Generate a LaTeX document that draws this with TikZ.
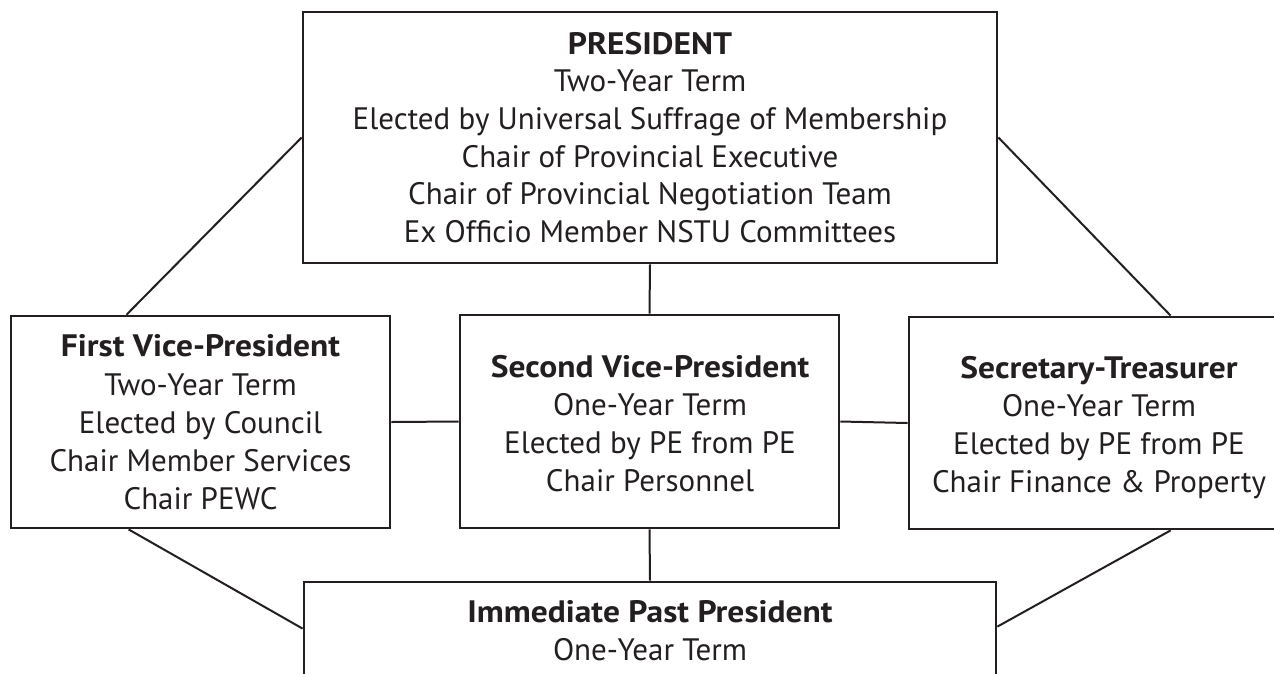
\documentclass[tikz,border=0pt]{standalone}
\usepackage{fontspec}
\setmainfont{PT Sans}[BoldFeatures={FakeStretch=1.08}]
\usetikzlibrary{calc}
\definecolor{ink}{HTML}{231F20}
\tikzset{
  box/.style={draw=ink, line width=2.8pt, fill=white, inner sep=0pt, rectangle},
  link/.style={draw=ink, line width=2pt},
  txt/.style={anchor=base, inner sep=0pt, text=ink, font=\fontsize{31}{37}\selectfont},
}
\begin{document}
\begin{tikzpicture}[x=1pt,y=-1pt]
\useasboundingbox (0,0) rectangle (1274,673);
\clip (0,0) rectangle (1274,673);
\fill[white] (0,0) rectangle (1274,673);
% boxes
\node[box, minimum width=694pt, minimum height=251pt] (pres) at (650,137.5) {};
\node[box, minimum width=379pt, minimum height=212pt] (fvp) at (200.5,422) {};
\node[box, minimum width=379pt, minimum height=213pt] (svp) at (649.5,421.5) {};
\node[box, minimum width=380pt, minimum height=212pt] (sec) at (1099,423) {};
\node[box, minimum width=692pt, minimum height=158pt] (ipp) at (650,661) {};
% connectors
\draw[link] (pres.south) -- (svp.north);
\draw[link] (fvp.east) -- (svp.west);
\draw[link] (svp.east) -- (sec.west);
\draw[link] (svp.south) -- (ipp.north);
\draw[link] (pres.west) -- ([xshift=117pt]fvp.north west);
\draw[link] (pres.east) -- ([xshift=263pt]sec.north west);
\draw[link] ([xshift=119pt]fvp.south west) -- ([yshift=-48pt]ipp.north west);
\draw[link] ([xshift=263pt]sec.south west) -- ([yshift=-46pt]ipp.north east);
% texts
\foreach \t [count=\i] in {\textbf{PRESIDENT},Two-Year Term,Elected by Universal Suffrage of Membership,Chair of Provincial Executive,Chair of Provincial Negotiation Team,Ex Officio Member NSTU Committees}
  \node[txt] (pres-\i) at (650,{54.3+(\i-1)*37.6}) {\t};
\foreach \t [count=\i] in {\textbf{First Vice-President},Two-Year Term,Elected by Council,Chair Member Services,Chair PEWC}
  \node[txt] (fvp-\i) at (200.5,{356.7+(\i-1)*38.3}) {\t};
\foreach \t [count=\i] in {\textbf{Second Vice-President},One-Year Term,Elected by PE from PE,Chair Personnel}
  \node[txt] (svp-\i) at (650,{377+(\i-1)*38}) {\t};
\foreach \t [count=\i] in {\textbf{Secretary-Treasurer},One-Year Term,Elected by PE from PE,Chair Finance \& Property}
  \node[txt] (sec-\i) at (1099,{378+(\i-1)*38.3}) {\t};
\foreach \t [count=\i] in {\textbf{Immediate Past President},One-Year Term}
  \node[txt] (ipp-\i) at (650,{622+(\i-1)*38}) {\t};
\end{tikzpicture}
\end{document}
